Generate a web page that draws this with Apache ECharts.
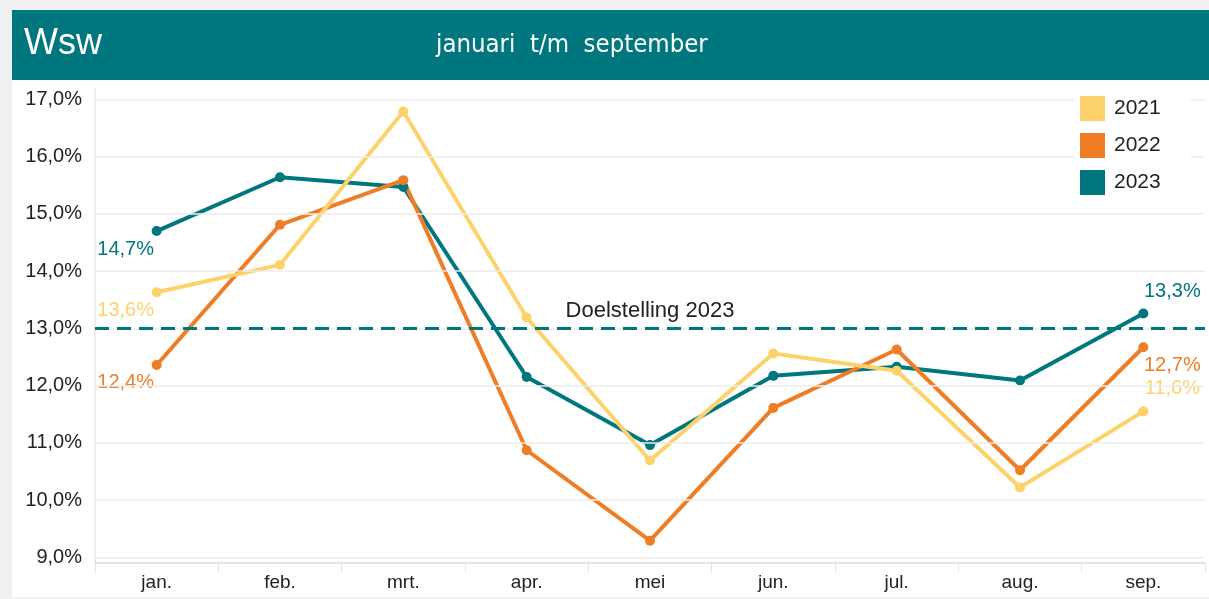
<!DOCTYPE html>
<html>
<head>
<meta charset="utf-8">
<script src="https://cdn.jsdelivr.net/npm/echarts@6/dist/echarts.min.js"></script>
<style>
  html, body { margin: 0; padding: 0; background: #f0f0f0; }
  #chart { width: 1209px; height: 599px; }
</style>
</head>
<body>
<div id="chart"></div>
<script>
// data
const months = ['jan.', 'feb.', 'mrt.', 'apr.', 'mei', 'jun.', 'jul.', 'aug.', 'sep.'];
const values2021 = [13.63, 14.11, 16.79, 13.19, 10.69, 12.56, 12.26, 10.22, 11.55];
const values2022 = [12.36, 14.81, 15.59, 10.87, 9.29, 11.61, 12.63, 10.52, 12.67];
const values2023 = [14.70, 15.64, 15.47, 12.15, 10.96, 12.17, 12.33, 12.09, 13.26];
const yTicks = [9, 10, 11, 12, 13, 14, 15, 16, 17];
const target = 13;

const teal = '#00767f';
const orange = '#ef7d26';
const yellow = '#fed26b';

const pct = v => v.toFixed(1).replace('.', ',') + '%';

// only first and last point get a label, each with its own nudge
function withLabels(values, color, firstOffset, lastOffset) {
  return values.map((v, i) => {
    if (i === 0 || i === values.length - 1) {
      return {
        value: v,
        label: {
          show: true,
          position: 'inside',
          offset: i === 0 ? firstOffset : lastOffset,
          color: color,
          fontSize: 20,
          fontFamily: 'Liberation Sans',
          formatter: p => pct(p.value)
        }
      };
    }
    return v;
  });
}

function lineSeries(name, values, color, firstOffset, lastOffset) {
  return {
    name: name,
    type: 'line',
    data: withLabels(values, color, firstOffset, lastOffset),
    symbol: 'circle',
    symbolSize: 10,
    lineStyle: { color: color, width: 4 },
    itemStyle: { color: color },
    emphasis: { disabled: true }
  };
}

const chart = echarts.init(document.getElementById('chart'));

const option = {
  backgroundColor: '#f0f0f0',
  animation: false,
  graphic: [
    { type: 'rect', left: 12, top: 80, shape: { width: 1197, height: 517 }, style: { fill: '#ffffff' }, z: -10 },
    { type: 'rect', left: 12, top: 10, shape: { width: 1197, height: 70 }, style: { fill: teal }, z: -10 },
    { type: 'text', left: 24, top: 26, style: { text: 'Wsw', fill: '#ffffff', font: '36px "Liberation Sans"' } },
    { type: 'text', left: 436, top: 32, style: { text: 'januari  t/m  september', fill: '#ffffff', font: '25.5px "DejaVu Sans Condensed", "Liberation Sans"' } }
  ],
  legend: {
    data: ['2021', '2022', '2023'],
    orient: 'vertical',
    left: 1074,
    top: 90,
    z: 10,
    padding: [6, 30, 6, 6],
    backgroundColor: '#ffffff',
    icon: 'rect',
    itemWidth: 25,
    itemHeight: 25,
    itemGap: 12,
    textStyle: { fontSize: 21, color: '#222', fontFamily: 'Liberation Sans', padding: [0, 0, 0, 4] }
  },
  grid: { left: 95, right: 4, top: 88, bottom: 36 },
  xAxis: {
    type: 'category',
    data: months,
    boundaryGap: true,
    axisLine: { lineStyle: { color: '#e3e3e3', width: 2 } },
    axisTick: { show: true, length: 9, lineStyle: { color: '#e3e3e3' } },
    axisLabel: { color: '#222', fontSize: 19, fontFamily: 'Liberation Sans', margin: 10 },
    splitLine: { show: false }
  },
  yAxis: {
    type: 'value',
    min: 8.9,
    max: 17.2,
    axisLine: { show: true, lineStyle: { color: '#ececec', width: 2 } },
    axisTick: { show: false },
    splitLine: { show: false },
    axisLabel: {
      customValues: yTicks,
      color: '#222',
      fontSize: 20,
      fontFamily: 'Liberation Sans',
      margin: 13,
      formatter: v => pct(v)
    }
  },
  series: [
    {
      // grid lines at the whole percentages
      name: 'grid',
      type: 'line',
      data: [],
      silent: true,
      z: 0,
      markLine: {
        silent: true,
        symbol: 'none',
        label: { show: false },
        lineStyle: { color: '#ececec', width: 1.5, type: 'solid' },
        data: yTicks.map(t => ({ yAxis: t }))
      }
    },
    lineSeries('2023', values2023, teal, [-31, 18], [29, -22]),
    lineSeries('2022', values2022, orange, [-31, 17], [29, 18]),
    lineSeries('2021', values2021, yellow, [-31, 18], [29, -23]),
    {
      name: 'Doelstelling 2023',
      type: 'line',
      data: [],
      silent: true,
      z: 1,
      markLine: {
        silent: true,
        symbol: 'none',
        lineStyle: { color: teal, width: 3, type: [14, 8] },
        label: {
          show: true,
          position: 'middle',
          formatter: 'Doelstelling 2023',
          color: '#222',
          fontSize: 22,
          fontFamily: 'Liberation Sans',
          distance: 6
        },
        data: [{ yAxis: target }]
      }
    }
  ]
};

chart.setOption(option);
</script>
</body>
</html>
